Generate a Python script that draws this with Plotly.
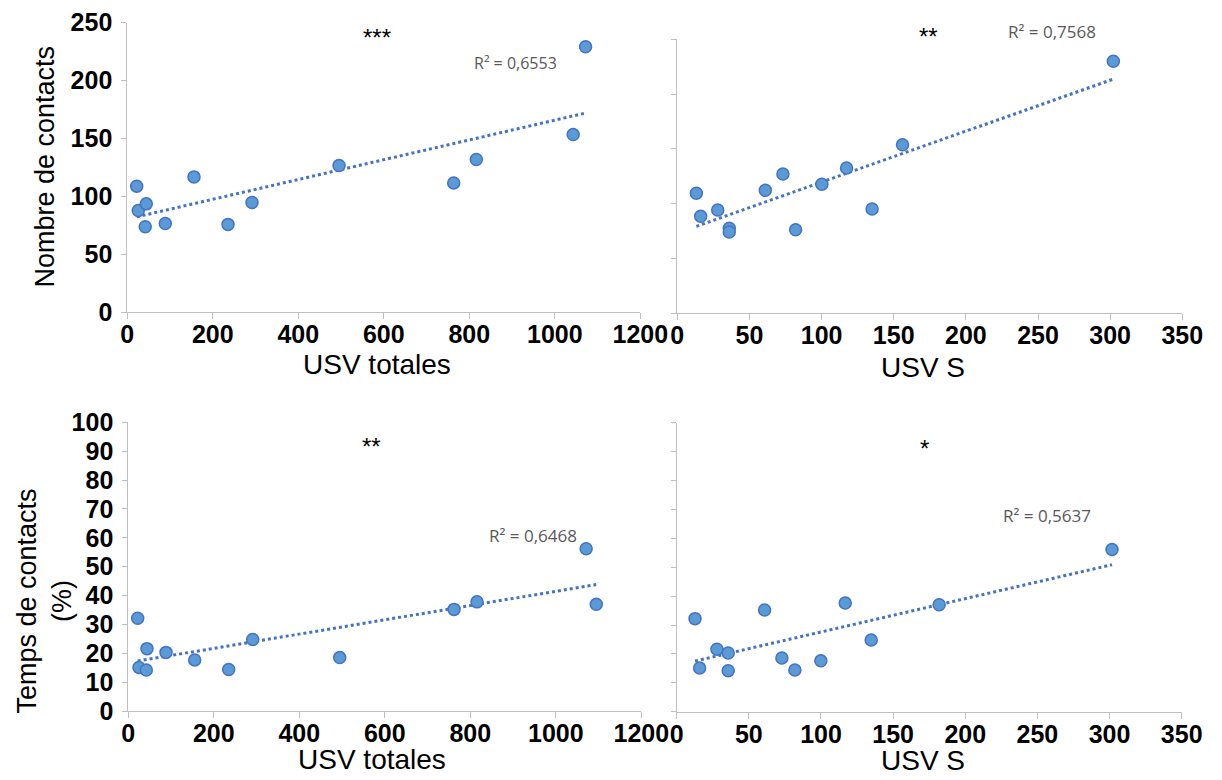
import numpy as np
import plotly.graph_objects as go

# page window is 1222x780; the page body has an 8px margin
OFF = 8
FW, FH = 1222 - OFF, 780 - OFF

# ---- data ----
tl_usv_totales = [22, 25.7, 44.4, 42, 88.9, 156, 235.6, 291.7, 495.3, 763.5, 816.4, 1043, 1072]
tl_nombre_contacts = [108.9, 87.9, 93.6, 73.8, 76.7, 116.9, 75.9, 94.8, 126.7, 111.7, 131.9, 153.4, 229.3]

tr_usv_s = [13.2, 16.2, 28, 36, 36, 61, 73.2, 82, 100.2, 117.3, 135, 156.1, 302.2]
tr_nombre_contacts = [109.5, 88.5, 94.3, 77.6, 74.2, 112.2, 127.1, 76.3, 117.7, 132.6, 95.2, 153.8, 229.9]

bl_usv_totales = [22, 25, 42.1, 43.7, 88.2, 155.3, 234.8, 291, 494.5, 762, 815.7, 1071, 1094.7]
bl_temps_contacts = [32.1, 15.1, 14.2, 21.6, 20.3, 17.7, 14.4, 24.8, 18.5, 35.2, 37.8, 56.2, 37.0]

br_usv_s = [12.7, 15.9, 27.9, 35.7, 35.7, 60.9, 72.9, 81.9, 99.9, 116.8, 134.8, 181.9, 301.7]
br_temps_contacts = [32.2, 15.1, 21.6, 20.3, 14.2, 35.2, 18.6, 14.4, 17.6, 37.6, 24.8, 37.0, 56.1]

r2_labels = ["R² = 0,6553", "R² = 0,7568", "R² = 0,6468", "R² = 0,5637"]
signif_labels = ["***", "**", "**", "*"]

x_titles = ["USV totales", "USV S", "USV totales", "USV S"]
y_titles = ["Nombre de contacts", "Temps de contacts<br>(%)"]


def px_x(px):
    return (px - OFF) / FW


def px_y(py):
    return 1 - (py - OFF) / FH


# ---- styling ----
MARKER_FILL = "#5B9BD5"
MARKER_LINE = "#4472C4"
TREND = "#4472C4"
AXIS_GRAY = "#BFBFBF"
TICK_FONT = dict(family="Liberation Sans, Arial", size=25, color="black", weight="bold")
TITLE_FONT = "Liberation Sans, Arial"

# annotation positions given in page pixels (center of text)
panels = [
    dict(x=tl_usv_totales, y=tl_nombre_contacts, xr=[0, 1200], yr=[0, 250], xd=200, yd=50,
         xdom=[127.3, 640.3], ydom=[312.3, 22.7], ylab=True,
         r2=(515, 62.5, 16), sig=(377, 37)),
    dict(x=tr_usv_s, y=tr_nombre_contacts, xr=[0, 350], yr=[0, 250], xd=50, yd=50,
         xdom=[677.3, 1182.3], ydom=[313.3, 39.3], ylab=False,
         r2=(1052, 31.5, 17), sig=(928, 36.5)),
    dict(x=bl_usv_totales, y=bl_temps_contacts, xr=[0, 1200], yr=[0, 100], xd=200, yd=10,
         xdom=[128.3, 641.3], ydom=[711, 422.3], ylab=True,
         r2=(533, 535.5, 17), sig=(371, 446)),
    dict(x=br_usv_s, y=br_temps_contacts, xr=[0, 350], yr=[0, 100], xd=50, yd=10,
         xdom=[676.7, 1181.7], ydom=[711.7, 422.7], ylab=False,
         r2=(1047, 515.5, 17), sig=(924, 448)),
]

fig = go.Figure()
annotations = []
layout = dict(width=FW, height=FH, margin=dict(l=0, r=0, t=0, b=0, pad=0, autoexpand=False),
              paper_bgcolor="white", plot_bgcolor="white", showlegend=False)

for i, p in enumerate(panels):
    k = "" if i == 0 else str(i + 1)
    xa, ya = "x" + k, "y" + k
    xs = np.array(p["x"], dtype=float)
    ys = np.array(p["y"], dtype=float)
    slope, intercept = np.polyfit(xs, ys, 1)
    tx = np.array([xs.min(), xs.max()])
    fig.add_trace(go.Scatter(x=tx, y=slope * tx + intercept, mode="lines",
                             line=dict(color=TREND, width=3, dash="dot"),
                             xaxis=xa, yaxis=ya, hoverinfo="skip"))
    fig.add_trace(go.Scatter(x=xs, y=ys, mode="markers",
                             marker=dict(size=12, color=MARKER_FILL,
                                         line=dict(color=MARKER_LINE, width=1.5)),
                             xaxis=xa, yaxis=ya, cliponaxis=False))
    layout["xaxis" + k] = dict(
        domain=[px_x(p["xdom"][0]), px_x(p["xdom"][1])], range=p["xr"], dtick=p["xd"],
        anchor=ya, showline=True, linecolor=AXIS_GRAY, linewidth=1, automargin=False,
        ticks="outside", ticklen=6, tickcolor=AXIS_GRAY, showgrid=False, zeroline=False,
        tickfont=TICK_FONT, ticklabelstandoff=-6)
    layout["yaxis" + k] = dict(
        domain=[px_y(p["ydom"][0]), px_y(p["ydom"][1])], range=p["yr"], dtick=p["yd"],
        anchor=xa, showline=True, linecolor=AXIS_GRAY, linewidth=1, automargin=False,
        ticks="outside", ticklen=5, tickcolor=AXIS_GRAY, showgrid=False, zeroline=False,
        tickfont=TICK_FONT, showticklabels=p["ylab"], ticklabelstandoff=4)
    rx, ry, rs = p["r2"]
    annotations.append(dict(x=px_x(rx), y=px_y(ry), xref="paper", yref="paper",
                            text=r2_labels[i], showarrow=False,
                            font=dict(family="Open Sans", size=rs, color="#595959"),
                            xanchor="center", yanchor="middle"))
    sx, sy = p["sig"]
    annotations.append(dict(x=px_x(sx), y=px_y(sy), xref="paper", yref="paper",
                            text=signif_labels[i], showarrow=False,
                            font=dict(family="Liberation Sans, Arial", size=24, color="black"),
                            xanchor="center", yanchor="middle"))

# axis titles
title_pos = [(376.7, 364), (923, 367), (372.5, 759), (923, 760)]
for t, (px, py) in zip(x_titles, title_pos):
    annotations.append(dict(x=px_x(px), y=px_y(py), xref="paper", yref="paper", text=t,
                            showarrow=False, font=dict(family=TITLE_FONT, size=28, color="black"),
                            xanchor="center", yanchor="middle"))
annotations.append(dict(x=px_x(44), y=px_y(166.5), xref="paper", yref="paper", text=y_titles[0],
                        showarrow=False, textangle=-90,
                        font=dict(family=TITLE_FONT, size=27, color="black"),
                        xanchor="center", yanchor="middle"))
annotations.append(dict(x=px_x(43.5), y=px_y(601), xref="paper", yref="paper", text=y_titles[1],
                        showarrow=False, textangle=-90,
                        font=dict(family=TITLE_FONT, size=27, color="black"),
                        xanchor="center", yanchor="middle"))

layout["annotations"] = annotations
fig.update_layout(**layout)
fig.write_html("out.html")
